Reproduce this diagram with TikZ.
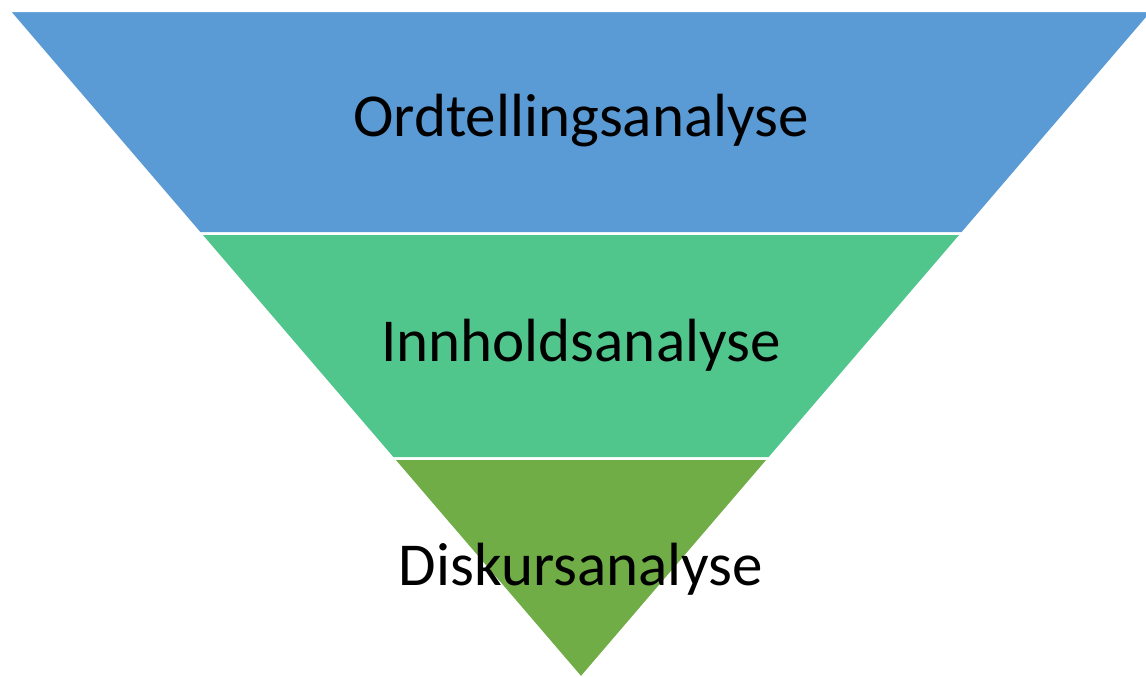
\documentclass[tikz,border=0pt]{standalone}
\usepackage{fontspec}
\setmainfont{Carlito}
\definecolor{bandblue}{HTML}{5B9BD5}
\definecolor{bandgreen}{HTML}{50C68C}
\definecolor{banddark}{HTML}{70AD47}
\tikzset{
  band/.style={draw=white, line width=2.5pt, line join=miter},
  label/.style={font=\fontsize{61}{72}\selectfont, text=black, inner sep=0pt}
}
\begin{document}
\begin{tikzpicture}[x=1pt,y=-1pt]
\useasboundingbox (0,0) rectangle (1146,677);
\clip (0,0) rectangle (1146,677);
\fill[white] (0,0) rectangle (1146,677);
\filldraw[band, fill=bandblue] (9,11) -- (1153,11) -- (962.2,233.5) -- (199.8,233.5) -- cycle;
\filldraw[band, fill=bandgreen] (199.8,233.5) -- (962.2,233.5) -- (769.2,458.5) -- (392.8,458.5) -- cycle;
\filldraw[band, fill=banddark] (392.8,458.5) -- (769.2,458.5) -- (581,678) -- cycle;
\node[label] (t1) at (581,121) {Ordtellingsanalyse};
\node[label] (t2) at (581,345) {Innholdsanalyse};
\node[label] (t3) at (581,569) {Diskursanalyse};
\end{tikzpicture}
\end{document}
